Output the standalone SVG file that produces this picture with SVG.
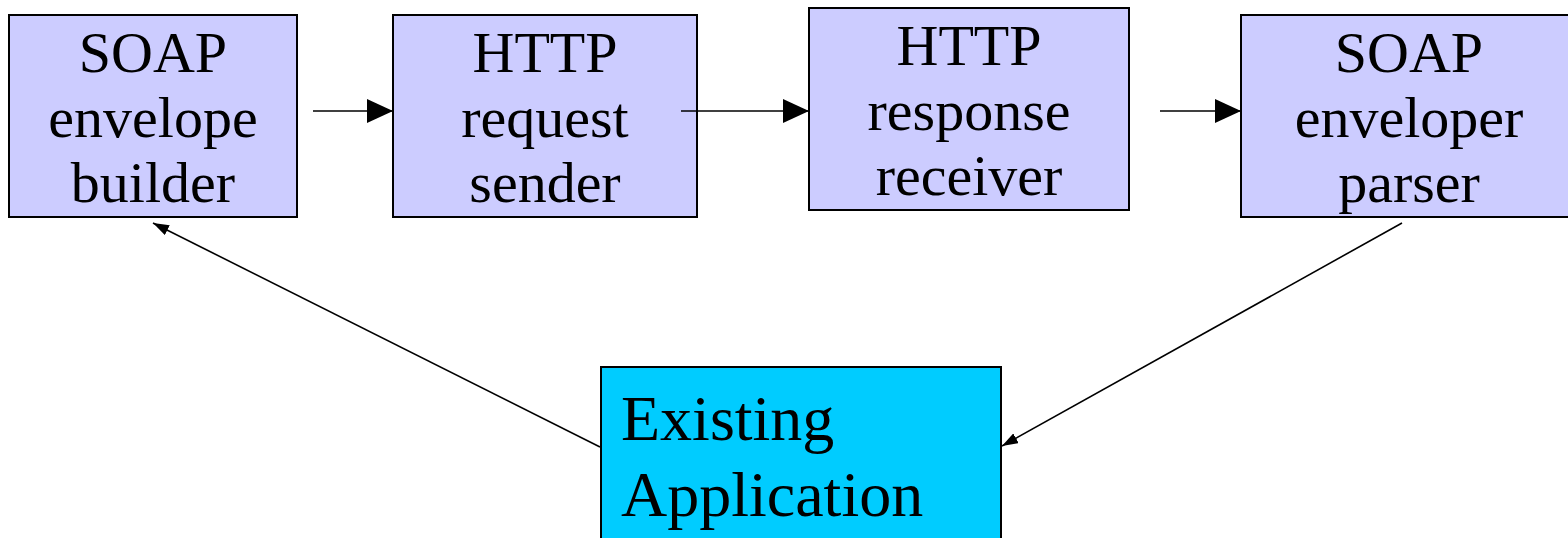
<svg xmlns="http://www.w3.org/2000/svg" width="1568" height="538" viewBox="0 0 1568 538">
<style>
.box{fill:#CCCCFF;stroke:#000;stroke-width:2}
.app{fill:#00CCFF;stroke:#000;stroke-width:2}
.t{font-family:"Liberation Serif","Times New Roman",serif;font-size:58px;fill:#000;text-anchor:middle}
.ta{font-family:"Liberation Serif","Times New Roman",serif;font-size:64px;fill:#000}
.c{stroke:#000;stroke-width:1.6;fill:none}
</style>
<defs>
<marker id="big" markerUnits="userSpaceOnUse" markerWidth="26" markerHeight="24" refX="26" refY="12" orient="auto">
<path d="M0,0 L26,12 L0,24 z" fill="#000"/>
</marker>
<marker id="small" markerUnits="userSpaceOnUse" markerWidth="16" markerHeight="11" refX="16" refY="5.5" orient="auto">
<path d="M0,0 L16,5.5 L0,11 z" fill="#000"/>
</marker>
</defs>
<g id="n1">
<rect class="box" x="9" y="15" width="288" height="202"/>
<text class="t" x="153" y="72">SOAP</text>
<text class="t" x="153" y="137">envelope</text>
<text class="t" x="153" y="202">builder</text>
</g>
<g id="n2">
<rect class="box" x="393" y="15" width="304" height="202"/>
<text class="t" x="545" y="72">HTTP</text>
<text class="t" x="545" y="137">request</text>
<text class="t" x="545" y="202">sender</text>
</g>
<g id="n3">
<rect class="box" x="809" y="8" width="320" height="202"/>
<text class="t" x="969" y="65">HTTP</text>
<text class="t" x="969" y="130">response</text>
<text class="t" x="969" y="195">receiver</text>
</g>
<g id="n4">
<rect class="box" x="1241" y="15" width="336" height="202"/>
<text class="t" x="1409" y="72">SOAP</text>
<text class="t" x="1409" y="137">enveloper</text>
<text class="t" x="1409" y="202">parser</text>
</g>
<g id="n5">
<rect class="app" x="601" y="367" width="400" height="190"/>
<text class="ta" x="621" y="440">Existing</text>
<text class="ta" x="621" y="516">Application</text>
</g>
<g id="connectors">
<line class="c" x1="313" y1="111" x2="393" y2="111" marker-end="url(#big)"/>
<line class="c" x1="681" y1="111" x2="809" y2="111" marker-end="url(#big)"/>
<line class="c" x1="1160" y1="111" x2="1241" y2="111" marker-end="url(#big)"/>
<line class="c" x1="600" y1="447" x2="153" y2="223" marker-end="url(#small)"/>
<line class="c" x1="1402" y1="223" x2="1002" y2="446" marker-end="url(#small)"/>
</g>
</svg>
